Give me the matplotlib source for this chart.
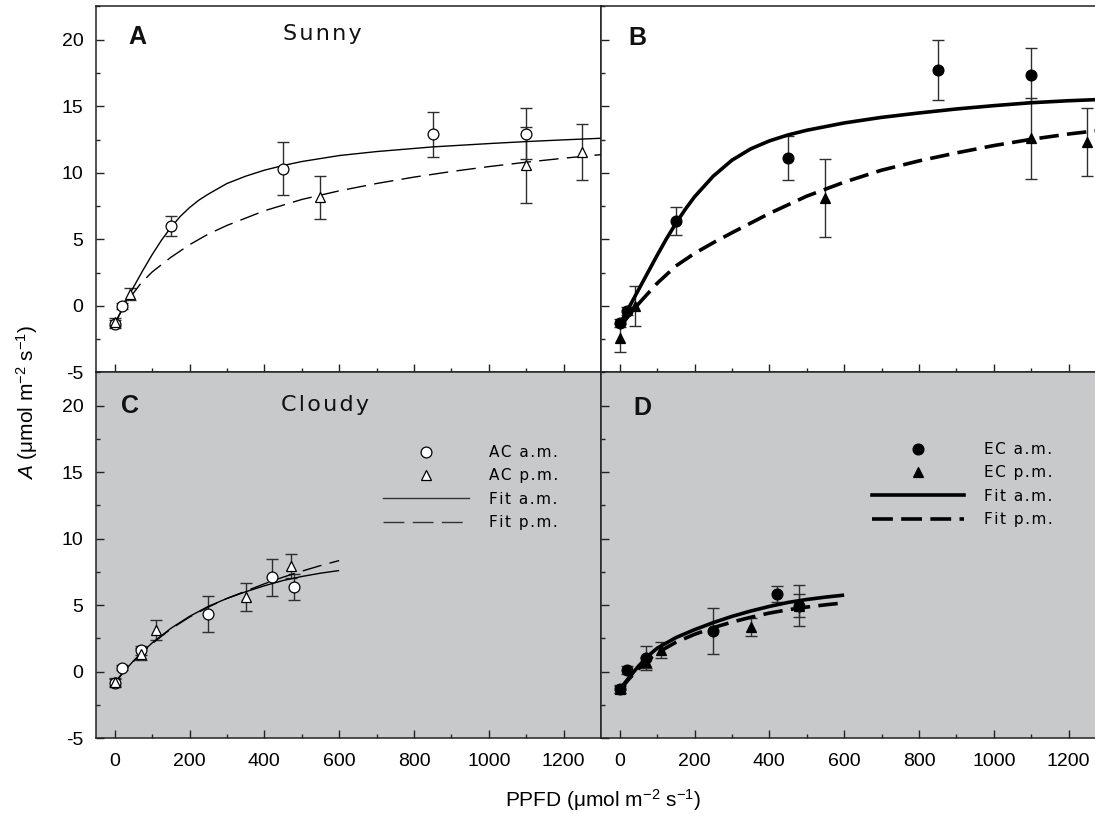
import matplotlib
matplotlib.use('Agg')
import matplotlib.pyplot as plt
from matplotlib.lines import Line2D
from matplotlib.ticker import MultipleLocator

plt.rcParams['font.family'] = ['Liberation Sans', 'DejaVu Sans']
plt.rcParams['mathtext.fontset'] = 'custom'
plt.rcParams['mathtext.rm'] = 'Liberation Sans'
plt.rcParams['mathtext.it'] = 'Liberation Sans:italic'
plt.rcParams['axes.unicode_minus'] = False
plt.rcParams['lines.scale_dashes'] = False

# ---------------- data ----------------
# Panel A: sunny, ambient CO2
a_am_x = [0, 20, 150, 450, 850, 1100]
a_am_y = [-1.35, 0.0, 6.0, 10.3, 12.9, 12.95]
a_am_e = [0.3, 0.2, 0.75, 2.0, 1.7, 1.9]
a_pm_x = [0, 40, 550, 1100, 1250]
a_pm_y = [-1.2, 0.9, 8.15, 10.6, 11.55]
a_pm_e = [0.3, 0.45, 1.6, 2.85, 2.1]
a_fit_am_x = [0, 25, 50, 75, 100, 125, 150, 175, 200, 225, 250, 300, 350, 400, 450,
              500, 600, 700, 850, 1000, 1100, 1200, 1300]
a_fit_am_y = [-1.35, 0.06, 1.4, 2.66, 3.85, 4.94, 5.89, 6.72, 7.39, 7.95, 8.4, 9.2, 9.75,
              10.2, 10.55, 10.85, 11.3, 11.6, 11.95, 12.2, 12.35, 12.48, 12.6]
a_fit_pm_x = [0, 20, 40, 70, 100, 150, 200, 250, 300, 400, 500, 600, 700, 800, 900,
              1000, 1100, 1200, 1300]
a_fit_pm_y = [-1.3, -0.3, 0.6, 1.7, 2.55, 3.65, 4.6, 5.4, 6.05, 7.15, 8.0, 8.65, 9.2,
              9.68, 10.1, 10.47, 10.8, 11.1, 11.37]

# Panel B: sunny, elevated CO2
b_am_x = [0, 20, 150, 450, 850, 1100]
b_am_y = [-1.3, -0.35, 6.4, 11.1, 17.7, 17.35]
b_am_e = [0.3, 0.3, 1.05, 1.65, 2.25, 2.05]
b_pm_x = [0, 40, 550, 1100, 1250]
b_pm_y = [-2.4, 0.0, 8.1, 12.6, 12.3]
b_pm_e = [1.05, 1.5, 2.95, 3.05, 2.55]
b_fit_am_x = [0, 25, 50, 75, 100, 125, 150, 175, 200, 250, 300, 350, 400, 450, 500,
              600, 700, 800, 900, 1000, 1100, 1200, 1300]
b_fit_am_y = [-1.4, -0.1, 1.2, 2.5, 3.8, 5.05, 6.2, 7.25, 8.2, 9.75, 10.95, 11.8, 12.4,
              12.85, 13.2, 13.75, 14.17, 14.5, 14.8, 15.05, 15.27, 15.42, 15.53]
b_fit_pm_x = [0, 25, 50, 100, 150, 200, 250, 300, 400, 500, 600, 700, 800, 900, 1000,
              1100, 1200, 1300]
b_fit_pm_y = [-1.6, -0.7, 0.15, 1.7, 3.0, 3.95, 4.75, 5.5, 6.95, 8.25, 9.3, 10.2, 10.9,
              11.5, 12.05, 12.52, 12.92, 13.25]

# Panel C: cloudy, ambient CO2
c_am_x = [0, 20, 70, 250, 420, 480]
c_am_y = [-0.85, 0.3, 1.6, 4.35, 7.1, 6.35]
c_am_e = [0.3, 0.2, 0.35, 1.35, 1.4, 1.0]
c_pm_x = [0, 70, 110, 350, 470]
c_pm_y = [-0.75, 1.35, 3.1, 5.6, 7.95]
c_pm_e = [0.3, 0.45, 0.75, 1.05, 0.9]
c_fit_am_x = [0, 25, 50, 75, 100, 150, 200, 250, 300, 350, 400, 450, 500, 550, 600]
c_fit_am_y = [-0.85, 0.0, 0.8, 1.5, 2.15, 3.25, 4.15, 4.9, 5.5, 6.0, 6.45, 6.85, 7.15,
              7.4, 7.6]
c_fit_pm_x = [0, 25, 50, 75, 100, 150, 200, 250, 300, 350, 400, 450, 500, 550, 600]
c_fit_pm_y = [-0.8, 0.0, 0.75, 1.45, 2.1, 3.2, 4.1, 4.85, 5.5, 6.05, 6.6, 7.1, 7.55,
              7.97, 8.35]

# Panel D: cloudy, elevated CO2
d_am_x = [0, 20, 70, 250, 420, 480]
d_am_y = [-1.35, 0.15, 1.05, 3.05, 5.8, 4.95]
d_am_e = [0.25, 0.3, 0.9, 1.75, 0.6, 1.55]
d_pm_x = [0, 70, 110, 350, 480]
d_pm_y = [-1.3, 0.7, 1.6, 3.35, 4.95]
d_pm_e = [0.3, 0.4, 0.6, 0.65, 0.85]
d_fit_am_x = [0, 25, 50, 75, 100, 150, 200, 250, 300, 350, 400, 450, 500, 550, 600]
d_fit_am_y = [-1.35, -0.45, 0.4, 1.15, 1.75, 2.55, 3.15, 3.68, 4.15, 4.55, 4.9, 5.2,
              5.42, 5.6, 5.75]
d_fit_pm_x = [0, 25, 50, 75, 100, 150, 200, 250, 300, 350, 400, 450, 500, 550, 600]
d_fit_pm_y = [-1.4, -0.55, 0.2, 0.85, 1.4, 2.2, 2.8, 3.3, 3.72, 4.08, 4.4, 4.65, 4.85,
              5.02, 5.17]

x_ticks = [0, 200, 400, 600, 800, 1000, 1200]
y_ticks = [-5, 0, 5, 10, 15, 20]
panel_letters = ['A', 'B', 'C', 'D']
titles = ['Sunny', '', 'Cloudy', '']
leg_c = ['AC a.m.', 'AC p.m.', 'Fit a.m.', 'Fit p.m.']
leg_d = ['EC a.m.', 'EC p.m.', 'Fit a.m.', 'Fit p.m.']

# ---------------- figure ----------------
W, H = 1095, 822
fig = plt.figure(figsize=(W / 100, H / 100), dpi=100)
GRAY = '#c8c9cb'
ECOL = '#2e2e2e'
DASH = (0, (14, 6))
HS = '\u200a'


def spaced(s):
    return HS.join(s)


def fx(px):
    return px / W


def fy(py):
    return 1 - py / H


axw = 505
ax_a = fig.add_axes([fx(96), fy(372.5), axw / W, 366 / H])
ax_b = fig.add_axes([fx(601), fy(372.5), axw / W, 366 / H])
ax_c = fig.add_axes([fx(96), fy(738), axw / W, 365.5 / H])
ax_d = fig.add_axes([fx(601), fy(738), axw / W, 365.5 / H])
axes = [ax_a, ax_b, ax_c, ax_d]

for i, ax in enumerate(axes):
    ax.set_xlim(-50, 1300)
    ax.set_ylim(-5, 22.5)
    ax.set_xticks(x_ticks)
    ax.set_yticks(y_ticks)
    ax.xaxis.set_minor_locator(MultipleLocator(100))
    ax.yaxis.set_minor_locator(MultipleLocator(2.5))
    ax.tick_params(which='both', direction='in', top=False, right=False,
                   width=1.0, color='#222222', labelsize=14)
    ax.tick_params(which='major', length=6)
    ax.tick_params(which='minor', length=3)
    ax.tick_params(axis='y', pad=9)
    ax.tick_params(axis='x', pad=11)
    for s in ax.spines.values():
        s.set_linewidth(1.1)
        s.set_color('#222222')
    if i >= 2:
        ax.set_facecolor(GRAY)
    if i < 2:
        ax.tick_params(labelbottom=False)
    if i % 2 == 1:
        ax.tick_params(labelleft=False)


def draw(ax, amx, amy, ame, pmx, pmy, pme, fax, fay, fpx, fpy, filled):
    lw = 2.6 if filled else 1.0
    ax.plot(fax, fay, color='black', lw=lw, zorder=3, solid_capstyle='butt',
            solid_joinstyle='round')
    ax.plot(fpx, fpy, color='black', lw=lw, ls=DASH, zorder=3, dash_capstyle='butt',
            dash_joinstyle='round')
    ax.errorbar(amx, amy, yerr=ame, fmt='none', ecolor=ECOL, elinewidth=1.0,
                capsize=4, capthick=1.0, zorder=2)
    ax.errorbar(pmx, pmy, yerr=pme, fmt='none', ecolor=ECOL, elinewidth=1.0,
                capsize=4, capthick=1.0, zorder=2)
    fc = 'black' if filled else 'white'
    ax.plot(amx, amy, 'o', ms=7.8, mfc=fc, mec='black', mew=0.9, ls='none', zorder=5)
    ax.plot(pmx, pmy, '^', ms=7.8, mfc=fc, mec='black', mew=0.9, ls='none', zorder=5)


draw(ax_a, a_am_x, a_am_y, a_am_e, a_pm_x, a_pm_y, a_pm_e,
     a_fit_am_x, a_fit_am_y, a_fit_pm_x, a_fit_pm_y, False)
draw(ax_b, b_am_x, b_am_y, b_am_e, b_pm_x, b_pm_y, b_pm_e,
     b_fit_am_x, b_fit_am_y, b_fit_pm_x, b_fit_pm_y, True)
draw(ax_c, c_am_x, c_am_y, c_am_e, c_pm_x, c_pm_y, c_pm_e,
     c_fit_am_x, c_fit_am_y, c_fit_pm_x, c_fit_pm_y, False)
draw(ax_d, d_am_x, d_am_y, d_am_e, d_pm_x, d_pm_y, d_pm_e,
     d_fit_am_x, d_fit_am_y, d_fit_pm_x, d_fit_pm_y, True)

# panel letters and titles
letter_pos = [(0.081, 0.916), (0.073, 0.913), (0.067, 0.908), (0.081, 0.904)]
for ax, lab, (lx, ly) in zip(axes, panel_letters, letter_pos):
    ax.text(lx, ly, lab, transform=ax.transAxes, ha='center', va='center',
            fontsize=18, fontweight='bold', color='#111111')
ax_a.text(0.449, 0.926, spaced(titles[0]), transform=ax_a.transAxes, ha='center',
          va='center', fontsize=16, family='DejaVu Sans', color='#111111')
ax_c.text(0.453, 0.912, spaced(titles[2]), transform=ax_c.transAxes, ha='center',
          va='center', fontsize=16, family='DejaVu Sans', color='#111111')


# legends
def legend(ax, labels, filled, lw, anchor, hl):
    fc = 'black' if filled else 'white'
    lc = 'black' if filled else '#333333'
    handles = [
        Line2D([], [], marker='o', ls='none', ms=7.8, mfc=fc, mec='black', mew=0.9),
        Line2D([], [], marker='^', ls='none', ms=7.8, mfc=fc, mec='black', mew=0.9),
        Line2D([], [], color=lc, lw=lw),
        Line2D([], [], color=lc, lw=lw, ls=(0, (15, 6))),
    ]
    ax.legend(handles, [spaced(t) for t in labels], loc='upper left',
              bbox_to_anchor=anchor, bbox_transform=fig.transFigure, frameon=False,
              borderpad=0, borderaxespad=0, handlelength=hl, handletextpad=1.35,
              labelspacing=0.55, prop={'family': 'DejaVu Sans', 'size': 11})


legend(ax_c, leg_c, False, 1.0, (fx(383), fy(445)), 5.6)
legend(ax_d, leg_d, True, 2.6, (fx(872), fy(442)), 6.0)

# axis labels
fig.text(fx(27), fy(402), r'$\mathit{A}$ (μmol m$^{-2}$ s$^{-1}$)', rotation=90,
         ha='center', va='center', fontsize=15)
fig.text(fx(603), fy(800), r'PPFD (μmol m$^{-2}$ s$^{-1}$)',
         ha='center', va='center', fontsize=15)

fig.savefig('out.png', dpi=100)
